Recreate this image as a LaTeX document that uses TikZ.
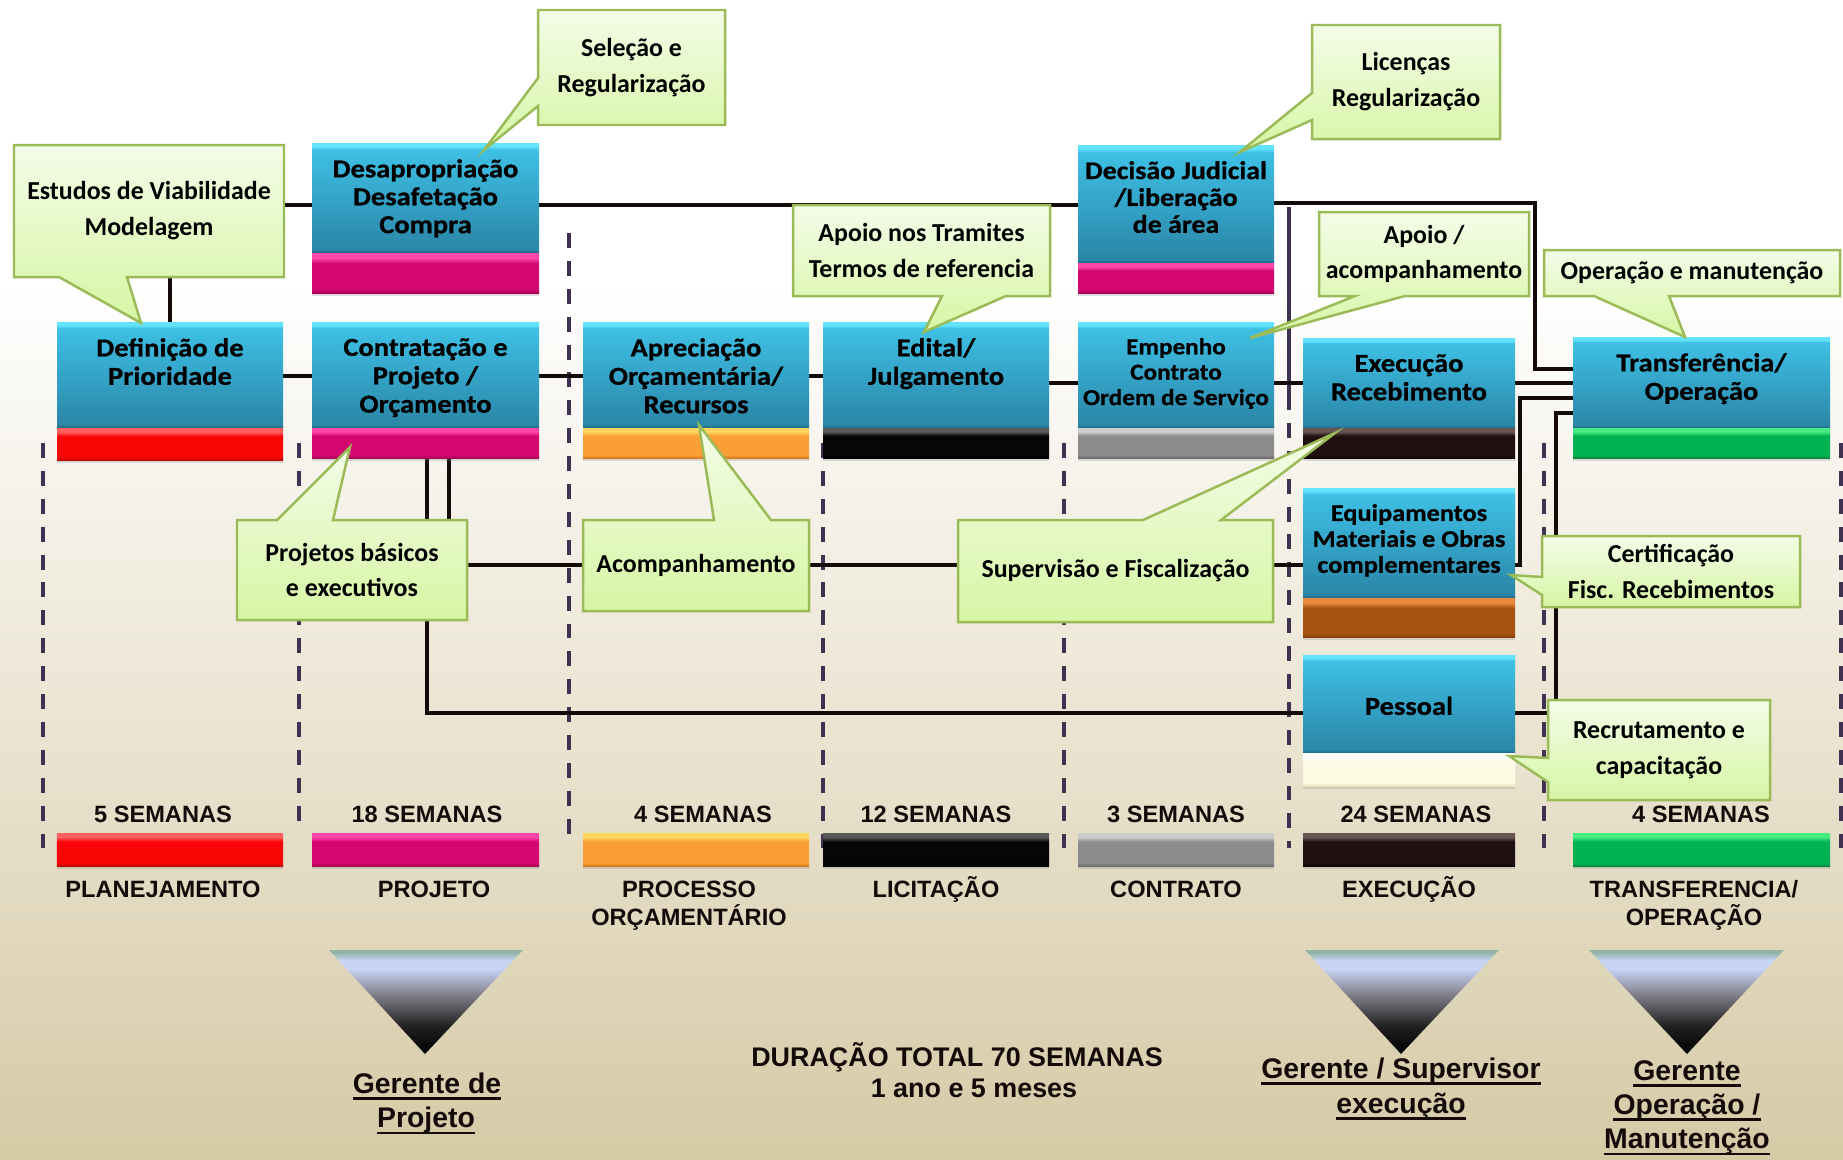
\documentclass[tikz,border=0pt]{standalone}
\usepackage{fontspec}
\setmainfont{Carlito}
\newfontfamily\boxfont{Carlito}[FakeStretch=1.1,FakeBold=0.7]
\newfontfamily\arialfont{Liberation Sans}
\usetikzlibrary{calc,shadows}
\pgfdeclarelayer{back}
\pgfdeclarelayer{mid}
\pgfsetlayers{back,mid,main}

\definecolor{bgbot}{RGB}{214,202,166}
\definecolor{linecol}{RGB}{20,10,10}
\definecolor{dashcol}{RGB}{63,49,81}
\definecolor{callborder}{RGB}{155,187,89}
\definecolor{calltop}{RGB}{244,252,232}
\definecolor{callbot}{RGB}{214,246,164}

\definecolor{bluehl}{RGB}{100,228,252}
\definecolor{bluetop}{RGB}{62,192,228}
\definecolor{bluemid}{RGB}{52,164,200}
\definecolor{bluebot}{RGB}{42,134,166}
\definecolor{bluedk}{RGB}{30,100,125}
\pgfdeclareverticalshading{blueshade}{100bp}{color(0bp)=(bluedk); color(25bp)=(bluedk); color(26.5bp)=(bluebot); color(50bp)=(bluemid); color(72bp)=(bluetop); color(73.5bp)=(bluehl); color(75bp)=(bluehl); color(100bp)=(bluehl)}

\newcommand\mkbar[4]{%
  \definecolor{#1A}{RGB}{#2}\definecolor{#1B}{RGB}{#3}\definecolor{#1C}{RGB}{#4}%
  \pgfdeclareverticalshading{#1}{100bp}{color(0bp)=(#1A); color(25bp)=(#1A); color(30bp)=(#1B); color(62bp)=(#1B); color(69bp)=(#1C); color(75bp)=(#1C); color(100bp)=(#1C)}}
\mkbar{redbar}{190,0,0}{250,5,5}{255,95,95}
\mkbar{pinkbar}{165,0,85}{212,6,112}{255,70,170}
\mkbar{orangebar}{215,120,30}{250,158,54}{255,212,95}
\mkbar{blackbar}{0,0,0}{6,6,6}{90,90,90}
\mkbar{graybar}{108,108,108}{140,140,140}{205,205,205}
\mkbar{dkbar}{18,6,6}{32,16,16}{105,85,85}
\mkbar{brownbar}{138,62,10}{165,82,18}{235,138,62}
\mkbar{greenbar}{0,140,60}{0,178,82}{70,235,130}
\mkbar{creambar}{232,232,188}{252,250,226}{255,255,255}

\definecolor{tril}{RGB}{200,212,245}
\definecolor{trit}{RGB}{145,178,165}
\definecolor{trim}{RGB}{130,130,140}
\pgfdeclareverticalshading{trishade}{100bp}{color(0bp)=(black); color(25bp)=(black); color(38bp)=(black!88); color(54bp)=(trim); color(66bp)=(tril); color(70bp)=(tril); color(74bp)=(trit); color(75bp)=(trit); color(100bp)=(trit)}

\tikzset{
  bluebox/.style={rectangle, inner sep=0pt, outer sep=0pt, shade, shading=blueshade},
  barbox/.style={rectangle, inner sep=0pt, outer sep=0pt, shade, shading=#1,
     drop shadow={shadow xshift=0pt, shadow yshift=-3pt, opacity=0.25}},
  boxtext/.style={inner sep=0pt, align=center, text=black,
     font=\boxfont\bfseries\fontsize{26}{28.5}\selectfont},
  calltxt/.style={inner sep=0pt, outer sep=0pt, align=center, text=black,
     font=\bfseries\fontsize{26}{36}\selectfont},
  callout/.style={top color=calltop, bottom color=callbot, draw=callborder,
     line width=2.5pt, line join=miter},
  conn/.style={draw=linecol, line width=4pt},
  sepline/.style={draw=dashcol, line width=3.5pt, dash pattern=on 15pt off 13pt},
  semtxt/.style={inner sep=0pt, text=linecol, font=\arialfont\bfseries\fontsize{23.7}{28}\selectfont},
  durtxt/.style={inner sep=0pt, text=linecol, font=\arialfont\bfseries\fontsize{27}{31}\selectfont},
  gtxt/.style={inner sep=0pt, text=linecol, font=\arialfont\bfseries\fontsize{28.5}{34}\selectfont},
  ul/.style={draw=linecol, line width=3pt},
  tri/.style={shade, shading=trishade}
}

% name, x1, x2, y1, ybar, y2, bar shading, text options, text
\newcommand\procbox[9]{%
  \node[bluebox, minimum width={(#3-#2)*1bp}, minimum height={(#5-#4)*1bp}] (#1) at ({(#2+#3)/2},{(#4+#5)/2}) {};
  \node[barbox=#7, minimum width={(#3-#2)*1bp}, minimum height={(#6-#5)*1bp}] (#1b) at ({(#2+#3)/2},{(#5+#6)/2}) {};
  \node[boxtext, anchor=north, #8] (#1t) at ({(#2+#3)/2},{#4+16}) {#9};
}
% name, x, y, text  (underlined label)
\newcommand\glabel[4]{%
  \node[gtxt, anchor=base] (#1) at (#2,#3) {#4};
  \draw[ul] ([yshift=-6pt]#1.base west) -- ([yshift=-6pt]#1.base east);
}

\begin{document}
\begin{tikzpicture}[x=1bp,y=-1bp]
\useasboundingbox (0,0) rectangle (1843,1159);
\begin{pgfonlayer}{back}
  \fill[white] (0,0) rectangle (1843,1159);
  \shade[top color=white, bottom color=bgbot] (0,280) rectangle (1843,1159);
\end{pgfonlayer}

% ---- process boxes ----
\procbox{def}{57}{283}{322}{428}{460}{redbar}{}{Definição de\\Prioridade}
\procbox{desap}{312}{539}{143}{253}{293}{pinkbar}{font=\boxfont\bfseries\fontsize{26}{28}\selectfont}{Desapropriação\\Desafetação\\Compra}
\procbox{contr}{312}{539}{322}{428}{458}{pinkbar}{}{Contratação e\\Projeto /\\Orçamento}
\procbox{apr}{583}{809}{322}{428}{458}{orangebar}{}{Apreciação\\Orçamentária/\\Recursos}
\procbox{edit}{823}{1049}{322}{428}{458}{blackbar}{}{Edital/\\Julgamento}
\procbox{dec}{1078}{1274}{145}{263}{293}{pinkbar}{font=\boxfont\bfseries\fontsize{25.5}{27}\selectfont}{Decisão Judicial\\/Liberação\\de área}
\procbox{emp}{1078}{1274}{322}{428}{458}{graybar}{font=\boxfont\bfseries\fontsize{23}{25.5}\selectfont}{Empenho\\Contrato\\Ordem de Serviço}
\procbox{exe}{1303}{1515}{338}{428}{458}{dkbar}{}{Execução\\Recebimento}
\procbox{tra}{1573}{1830}{337}{428}{458}{greenbar}{}{Transferência/\\Operação}
\procbox{equ}{1303}{1515}{488}{598}{637}{brownbar}{font=\boxfont\bfseries\fontsize{24}{26}\selectfont}{Equipamentos\\Materiais e Obras\\complementares}
\procbox{pes}{1303}{1515}{655}{753}{786}{creambar}{anchor=base, yshift=-44pt}{Pessoal}

% ---- callouts ----
\shadedraw[callout] (14,145) -- (284,145) -- (284,277) -- (127,277) -- (141,323) -- (59,277) -- (14,277) -- cycle;
\node[calltxt, minimum width=270bp, minimum height=132bp] (estudos) at (149,211) {Estudos de Viabilidade\\Modelagem};

\shadedraw[callout] (538,10) -- (725,10) -- (725,125) -- (538,125) -- (538,106) -- (484,150) -- (538,78) -- cycle;
\node[calltxt, minimum width=187bp, minimum height=115bp] (selecao) at (631.5,67.5) {Seleção e\\Regularização};

\shadedraw[callout] (793,205) -- (1050,205) -- (1050,296) -- (1006,296) -- (924,332) -- (942,296) -- (793,296) -- cycle;
\node[calltxt, minimum width=257bp, minimum height=91bp] (tramites) at (921.5,250.5) {Apoio nos Tramites\\Termos de referencia};

\shadedraw[callout] (1312,25) -- (1500,25) -- (1500,139) -- (1312,139) -- (1312,120) -- (1240,152) -- (1312,93) -- cycle;
\node[calltxt, minimum width=188bp, minimum height=114bp] (licencas) at (1406,82) {Licenças\\Regularização};

\shadedraw[callout] (1319,212) -- (1529,212) -- (1529,296) -- (1405,296) -- (1250,338) -- (1355,296) -- (1319,296) -- cycle;
\node[calltxt, minimum width=210bp, minimum height=84bp] (apoio) at (1424,254) {Apoio /\\acompanhamento};

\shadedraw[callout] (1544,250) -- (1840,250) -- (1840,296) -- (1669,296) -- (1685,337) -- (1594,296) -- (1544,296) -- cycle;
\node[calltxt, minimum width=296bp, minimum height=46bp] (opman) at (1692,273) {Operação e manutenção};

\shadedraw[callout] (237,520) -- (277,520) -- (350,447) -- (333,520) -- (467,520) -- (467,620) -- (237,620) -- cycle;
\node[calltxt, minimum width=230bp, minimum height=100bp] (projetos) at (352,570) {Projetos básicos\\e executivos};

\shadedraw[callout] (583,520) -- (714,520) -- (699,425) -- (771,520) -- (809,520) -- (809,611) -- (583,611) -- cycle;
\node[calltxt, minimum width=226bp, minimum height=91bp] (acomp) at (696,565.5) {Acompanhamento};

\shadedraw[callout] (958,520) -- (1143,520) -- (1335,433) -- (1221,520) -- (1273,520) -- (1273,622) -- (958,622) -- cycle;
\node[calltxt, minimum width=315bp, minimum height=102bp] (superv) at (1115.5,571) {Supervisão e Fiscalização};

\shadedraw[callout] (1542,536) -- (1800,536) -- (1800,607) -- (1542,607) -- (1542,595) -- (1511,575) -- (1542,577) -- cycle;
\node[calltxt, minimum width=258bp, minimum height=71bp] (certif) at (1671,571.5) {Certificação\\Fisc. Recebimentos};

\shadedraw[callout] (1548,700) -- (1770,700) -- (1770,800) -- (1548,800) -- (1548,782) -- (1509,756) -- (1548,758) -- cycle;
\node[calltxt, minimum width=222bp, minimum height=100bp] (recrut) at (1659,750) {Recrutamento e\\capacitação};

% ---- helper coordinates ----
\coordinate (xA) at (170,0);
\coordinate (yA) at (0,205);
\coordinate (yB) at (0,203);
\coordinate (xB) at (1535,0);
\coordinate (yC) at (0,369);
\coordinate (yD) at (0,376);
\coordinate (yE) at (0,383);
\coordinate (yF) at (0,565);
\coordinate (xF) at (1520,0);
\coordinate (yG) at (0,398);
\coordinate (yH) at (0,713);
\coordinate (xH) at (1556,0);
\coordinate (yI) at (0,413);
\coordinate (xJ) at (449,0);
\coordinate (xK) at (427,0);

\begin{pgfonlayer}{mid}
  % separators
  \draw[sepline] (43,443) -- (43,848);
  \draw[sepline] (299,443) -- (299,823);
  \draw[sepline] (569,233) -- (569,838);
  \draw[sepline] (823,443) -- (823,850);
  \draw[sepline] (1064,443) -- (1064,850);
  \draw[draw=dashcol, line width=3.5pt] (1289,207) -- (1289,395);
  \draw[sepline] (1289,395) -- (1289,848);
  \draw[sepline] (1544,443) -- (1544,848);
  \draw[sepline] (1841,443) -- (1841,848);
  % connectors
  \draw[conn] (estudos.south -| xA) -- (def.north -| xA);
  \draw[conn] (estudos.east |- yA) -- (desap.west |- yA);
  \draw[conn] (desap.east |- yA) -- (dec.west |- yA);
  \draw[conn] (dec.east |- yB) -| (xB |- yC) -- (tra.west |- yC);
  \draw[conn] (def.east |- yD) -- (contr.west |- yD);
  \draw[conn] (contr.east |- yD) -- (apr.west |- yD);
  \draw[conn] (apr.east |- yD) -- (edit.west |- yD);
  \draw[conn] (edit.east |- yE) -- (emp.west |- yE);
  \draw[conn] (emp.east |- yE) -- (exe.west |- yE);
  \draw[conn] (exe.east |- yE) -- (tra.west |- yE);
  \draw[conn] (equ.east |- yF) -| (xF |- yG) -- (tra.west |- yG);
  \draw[conn] (pes.east |- yH) -| (xH |- yI) -- (tra.west |- yI);
  \draw[conn] (contrb.south -| xJ) -- (projetos.north -| xJ);
  \draw[conn] (contrb.south -| xK) |- (pes.west |- yH);
  \draw[conn] (projetos.east |- yF) -- (acomp.west |- yF);
  \draw[conn] (acomp.east |- yF) -- (superv.west |- yF);
  \draw[conn] (superv.east |- yF) -- (equ.west |- yF);
\end{pgfonlayer}

% ---- timeline ----
\node[semtxt, anchor=base] (s1) at (163,822) {5 SEMANAS};
\node[semtxt, anchor=base] (s2) at (427,822) {18 SEMANAS};
\node[semtxt, anchor=base] (s3) at (703,822) {4 SEMANAS};
\node[semtxt, anchor=base] (s4) at (936,822) {12 SEMANAS};
\node[semtxt, anchor=base] (s5) at (1176,822) {3 SEMANAS};
\node[semtxt, anchor=base] (s6) at (1416,822) {24 SEMANAS};
\node[semtxt, anchor=base] (s7) at (1701,822) {4 SEMANAS};

\node[barbox=redbar, minimum width=226bp, minimum height=33bp] (t1) at (170,849.5) {};
\node[barbox=pinkbar, minimum width=227bp, minimum height=33bp] (t2) at (425.5,849.5) {};
\node[barbox=orangebar, minimum width=226bp, minimum height=33bp] (t3) at (696,849.5) {};
\node[barbox=blackbar, minimum width=226bp, minimum height=33bp] (t4) at (936,849.5) {};
\node[barbox=graybar, minimum width=196bp, minimum height=33bp] (t5) at (1176,849.5) {};
\node[barbox=dkbar, minimum width=212bp, minimum height=33bp] (t6) at (1409,849.5) {};
\node[barbox=greenbar, minimum width=257bp, minimum height=33bp] (t7) at (1701.5,849.5) {};

\node[semtxt, anchor=base] (p1) at (163,897) {PLANEJAMENTO};
\node[semtxt, anchor=base] (p2) at (434,897) {PROJETO};
\node[semtxt, anchor=base] (p3a) at (689,897) {PROCESSO};
\node[semtxt, anchor=base] (p3b) at (689,925) {ORÇAMENTÁRIO};
\node[semtxt, anchor=base] (p4) at (936,897) {LICITAÇÃO};
\node[semtxt, anchor=base] (p5) at (1176,897) {CONTRATO};
\node[semtxt, anchor=base] (p6) at (1409,897) {EXECUÇÃO};
\node[semtxt, anchor=base] (p7a) at (1694,897) {TRANSFERENCIA/};
\node[semtxt, anchor=base] (p7b) at (1694,925) {OPERAÇÃO};

% ---- managers ----
\path[tri] (329,950) -- (523,950) -- (425,1054) -- cycle;
\path[tri] (1305,950) -- (1499,950) -- (1401,1054) -- cycle;
\path[tri] (1589,950) -- (1784,950) -- (1687,1054) -- cycle;

\glabel{g1a}{427}{1093}{Gerente de}
\glabel{g1b}{426}{1127}{Projeto}
\glabel{g2a}{1401}{1078}{Gerente / Supervisor}
\glabel{g2b}{1401}{1113}{execução}
\glabel{g3a}{1687}{1080}{Gerente}
\glabel{g3b}{1687}{1114}{Operação /}
\glabel{g3c}{1687}{1148}{Manutenção}

\node[durtxt, anchor=base] (dur1) at (957,1066) {DURAÇÃO TOTAL 70 SEMANAS};
\node[durtxt, anchor=base] (dur2) at (974,1097) {1 ano e 5 meses};
\end{tikzpicture}
\end{document}
